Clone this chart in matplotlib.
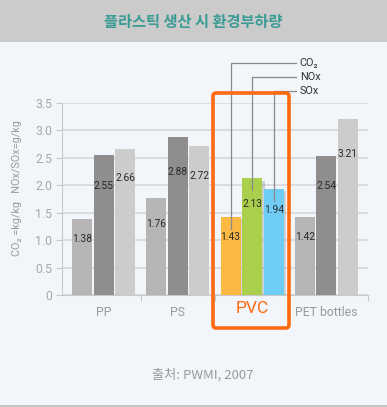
import matplotlib
matplotlib.use("Agg")
import matplotlib.pyplot as plt
import numpy as np
from matplotlib.patches import Rectangle, FancyBboxPatch
import matplotlib.patheffects as pe

categories = ["PP", "PS", "PVC", "PET bottles"]
series_names = ["CO₂", "NOx", "SOx"]
co2 = [1.38, 1.76, 1.43, 1.42]
nox = [2.55, 2.88, 2.13, 2.54]
sox = [2.66, 2.72, 1.94, 3.21]
title = "플라스틱 생산 시 환경부하량"
source = "출처: PWMI, 2007"
ylabel = "CO₂ =kg/kg   NOx/SOx=g/kg"
yticks = [0, 0.5, 1.0, 1.5, 2.0, 2.5, 3.0, 3.5]
ytick_labels = ["0", "0.5", "1.0", "1.5", "2.0", "2.5", "3.0", "3.5"]

gray_colors = ["#b6b4b5", "#8f8d8e", "#cdcccc"]
pvc_colors = ["#fbb944", "#a9cf4c", "#6fcdf5"]
label_frac = [0.74, 0.78, 0.80]

W, H = 387, 407
fig = plt.figure(figsize=(W / 100, H / 100), dpi=100)
fig.patch.set_facecolor("#f2f5f9")

def fx(px):
    return px / W

def fy(py):
    return 1 - py / H

# header band
fig.patches.append(Rectangle((0, fy(42)), 1, 42 / H, transform=fig.transFigure,
                             facecolor="#cbcbcb", edgecolor="none", zorder=0))
fig.text(0.5, fy(22), title, ha="center", va="center", fontsize=11,
         fontweight="bold", color="#3b9b95", family=["Noto Sans CJK KR", "DejaVu Sans"])
# bottom line
fig.patches.append(Rectangle((0, 0), 1, 2 / H, transform=fig.transFigure,
                             facecolor="#c8c8c8", edgecolor="none", zorder=0))

ax = fig.add_axes([fx(62), fy(295), fx(368) - fx(62), fy(103) - fy(295)])
ax.set_facecolor("#f2f5f9")
ax.set_xlim(-0.56, 3.56)
ax.set_ylim(0, 3.5)

x = np.arange(len(categories))
width = 0.27
offsets = [-0.29, 0.0, 0.29]
series = [co2, nox, sox]

for si, vals in enumerate(series):
    for ci, v in enumerate(vals):
        is_pvc = categories[ci] == "PVC"
        color = pvc_colors[si] if is_pvc else gray_colors[si]
        b = ax.bar(x[ci] + offsets[si], v, width=width, color=color, zorder=3)
        if is_pvc:
            for p in b:
                p.set_path_effects([pe.SimplePatchShadow(offset=(2, -2), alpha=0.25,
                                                         shadow_rgbFace="#666666"),
                                    pe.Normal()])
        ax.text(x[ci] + offsets[si], v * label_frac[si], f"{v:.2f}", ha="center",
                va="center", fontsize=7.4, color="#2a2a2a", zorder=5,
                family=["Roboto", "DejaVu Sans"])

ax.set_yticks(yticks)
ax.set_yticklabels(ytick_labels, fontsize=8.8, color="#a8a8a8", family=["Roboto", "DejaVu Sans"])
ax.yaxis.grid(True, color="#d9dadb", linewidth=1.3, zorder=0)
ax.set_axisbelow(True)
ax.tick_params(axis="y", length=4, color="#c8c8c8", pad=3)

ax.set_xticks([0.5, 1.5, 2.5, 3.56])
ax.set_xticklabels([])
ax.tick_params(axis="x", length=4, color="#c8c8c8", direction="out")
for ci, cat in enumerate(categories):
    if cat == "PVC":
        ax.text(x[ci], -0.11, cat, ha="center", va="top", fontsize=12.5, color="#ff6a10",
                family=["Roboto", "DejaVu Sans"])
    else:
        ax.text(x[ci], -0.2, cat, ha="center", va="top", fontsize=8.8, color="#9a9a9a",
                family=["Roboto", "DejaVu Sans"])

for s in ["top", "right"]:
    ax.spines[s].set_visible(False)
ax.spines["left"].set_color("#c8c8c8")
ax.spines["bottom"].set_color("#c8c8c8")

fig.text(fx(17), fy(188), ylabel, rotation=90, ha="center", va="center", fontsize=7.8,
         color="#9a9a9a", family=["Roboto", "DejaVu Sans"])

# PVC highlight box
box = FancyBboxPatch((fx(213), fy(328)), fx(289) - fx(213), fy(93) - fy(328),
                     boxstyle="round,pad=0,rounding_size=0.008", transform=fig.transFigure,
                     facecolor="none", edgecolor="#ff6a10", linewidth=2.6, zorder=10)
fig.patches.append(box)

# leader lines for PVC legend
pvc_i = categories.index("PVC")
legend_y = [4.23, 3.97, 3.72]
end_x = 2.59
for si, vals in enumerate(series):
    bx = x[pvc_i] + offsets[si]
    ax.plot([bx, bx, end_x], [vals[pvc_i] - 0.22, legend_y[si], legend_y[si]],
            color="#8a8a8a", linewidth=0.9, clip_on=False, zorder=6)
    ax.text(end_x + 0.05, legend_y[si], series_names[si], ha="left", va="center",
            fontsize=7.8, color="#333333", family=["Roboto", "DejaVu Sans"])

fig.text(fx(203), fy(375), source, ha="center", va="center", fontsize=9.5,
         color="#9a9a9a", family=["Noto Sans CJK KR", "DejaVu Sans"])

fig.savefig("out.png", dpi=100, facecolor=fig.get_facecolor())
